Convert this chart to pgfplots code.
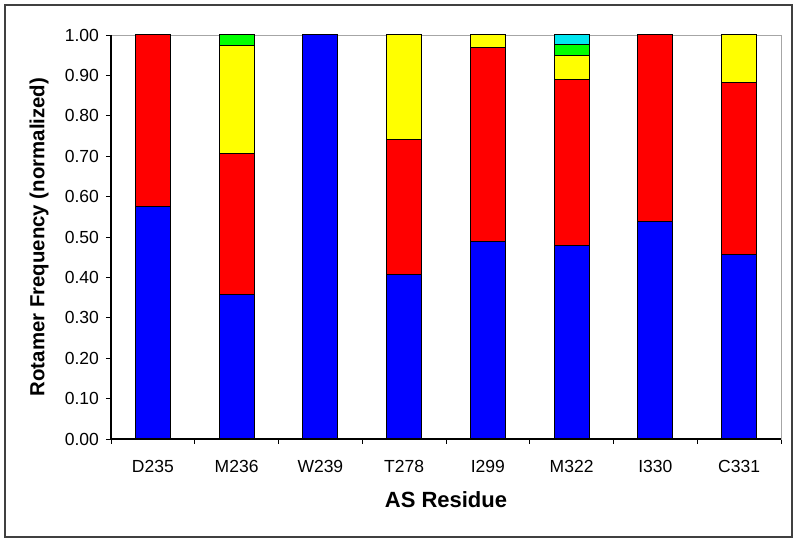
\documentclass[border=0pt]{standalone}
\usepackage{pgfplots}
\pgfplotsset{compat=1.18}
\usepackage{fontspec}
\setmainfont{Liberation Sans}
\definecolor{cblue}{RGB}{0,0,255}
\definecolor{cred}{RGB}{255,0,0}
\definecolor{cyel}{RGB}{255,255,0}
\definecolor{cgreen}{RGB}{0,255,0}
\definecolor{ccyan}{RGB}{0,230,240}
\definecolor{frame}{RGB}{64,64,64}
\begin{document}
\begin{tikzpicture}
\useasboundingbox (0,0) rectangle (400pt,272pt);
\draw[frame, line width=1pt] (2.5pt,3.5pt) rectangle (396pt,269.5pt);
\begin{axis}[
  name=ax,
  at={(55.5pt,52.5pt)}, anchor=south west,
  scale only axis, width=335pt, height=202pt,
  ybar stacked, bar width=17.5pt,
  xmin=0.5, xmax=8.5, ymin=0, ymax=1,
  axis line style={draw=gray!70},
  xtick={1,...,8},
  xticklabels={D235,M236,W239,T278,I299,M322,I330,C331},
  minor xtick={0.5,1.5,...,8.5},
  major x tick style={draw=none},
  minor x tick style={black, thin},
  xtick pos=bottom, ytick pos=left,
  tick align=outside,
  major tick length=2.5pt, minor tick length=2.5pt,
  ytick={0,0.1,...,1.0},
  y tick style={black, thin},
  yticklabel style={/pgf/number format/.cd, fixed, fixed zerofill, precision=2, assume math mode=true},
  tick label style={font=\fontsize{8.75}{10}\selectfont, text=black},
  xticklabel style={anchor=center, yshift=-11pt},
  xlabel={\textbf{AS Residue}},
  ylabel={\textbf{Rotamer Frequency (normalized)}},
  xlabel style={font=\fontsize{11}{13}\selectfont, at={(axis description cs:0.5,0)}, anchor=center, yshift=-30.5pt},
  ylabel style={font=\fontsize{10.2}{12}\selectfont, at={(axis description cs:0,0.5)}, anchor=center, rotate=0, yshift=36pt},
  every axis plot/.append style={draw=black, line width=0.5pt},
]
\addplot[fill=cblue] coordinates {(1,0.575) (2,0.358) (3,1.0) (4,0.408) (5,0.488) (6,0.480) (7,0.538) (8,0.457)};
\addplot[fill=cred] coordinates {(1,0.425) (2,0.349) (3,0) (4,0.334) (5,0.482) (6,0.410) (7,0.462) (8,0.426)};
\addplot[fill=cyel] coordinates {(1,0) (2,0.266) (3,0) (4,0.258) (5,0.030) (6,0.058) (7,0) (8,0.117)};
\addplot[fill=cgreen] coordinates {(1,0) (2,0.027) (3,0) (4,0) (5,0) (6,0.029) (7,0) (8,0)};
\addplot[fill=ccyan] coordinates {(1,0) (2,0) (3,0) (4,0) (5,0) (6,0.023) (7,0) (8,0)};
\end{axis}
\draw[black, line width=0.6pt] (ax.north west) -- (ax.south west) -- (ax.south east);
\end{tikzpicture}
\end{document}
